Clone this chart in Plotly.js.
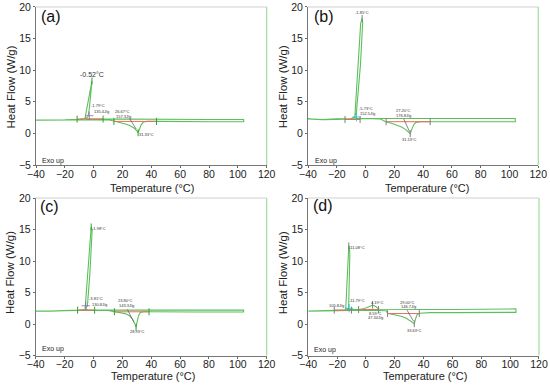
<!DOCTYPE html>
<html><head><meta charset="utf-8">
<script src="https://cdn.plot.ly/plotly-3.0.1.min.js"></script>
<style>html,body{margin:0;padding:0;background:#fff}#chart{width:550px;height:386px}</style>
</head><body><div id="chart"></div>
<script>
const xTicks = [-40, -20, 0, 20, 40, 60, 80, 100, 120];
const yTicks = [-5, 0, 5, 10, 15, 20];
const panelNames = ['(a)', '(b)', '(c)', '(d)'];

// ---- Panel (a) ----
const aHeatT  = [-40, -30, -20, -10, 0, 10, 14, 18, 22, 25, 28, 30, 30.8, 31.8, 33, 34.5, 37, 45, 60, 80, 104];
const aHeatHF = [2.1, 2.1, 2.15, 2.2, 2.2, 2.15, 1.95, 1.75, 1.5, 1.25, 0.85, 0.4, 0.1, 0.7, 1.4, 1.8, 1.9, 1.9, 1.85, 1.85, 1.85];
const aCoolT  = [104, 104, 80, 60, 40, 20, 5, -2, -5, -6, -1.6, -1.2, -1.5, -3, -4, -6, -10, -20, -30, -40];
const aCoolHF = [1.85, 2.2, 2.2, 2.2, 2.2, 2.25, 2.3, 2.3, 2.3, 2.4, 8.0, 8.3, 7.5, 4.0, 2.6, 2.35, 2.25, 2.15, 2.1, 2.1];
const aBaseStart = [-11.5, 14], aBaseEnd = [6.5, 43.6], aBaseHF = [2.27, 1.9];
const aPeakT = [-1.2, 30.8], aPeakHF = [8.3, 0.1];
const aTanT = [25, 29.5], aTanHF = [2.3, 0.7];
const aCrossT = [-3], aCrossHF = [2.8];
const aLabelText = ['-0.52°C', '-1.79°C', '135.4J/g', '26.67°C', '157.3J/g', '31.33°C'];
const aLabelT    = [-1.4, 3.3, 5.4, 20.3, 21, 36.5];
const aLabelHF   = [9.3, 4.45, 3.5, 3.5, 2.65, -0.1];
const aLabelSize = [7, 4, 4, 4, 4, 4];

// ---- Panel (b) ----
const bHeatT  = [-40, -35, -30, -20, -10, 0, 10, 14, 18, 22, 25, 28, 30, 31, 32, 33.5, 35, 38, 45, 60, 80, 104];
const bHeatHF = [2.3, 2.25, 2.15, 2.2, 2.3, 2.35, 2.3, 1.85, 1.6, 1.3, 1.0, 0.6, 0.2, -0.05, 0.6, 1.4, 1.75, 1.85, 1.85, 1.85, 1.85, 1.85];
const bCoolT  = [104, 104, 80, 60, 40, 20, 0, -4, -7, -7.5, -3.4, -2.4, -2.0, -3.5, -5.5, -6.4, -8, -10, -20, -30, -40];
const bCoolHF = [1.85, 2.35, 2.35, 2.35, 2.35, 2.35, 2.35, 2.35, 2.4, 2.5, 17.4, 18.2, 17.6, 11, 5, 3.2, 2.5, 2.35, 2.3, 2.2, 2.3];
const bBaseStart = [-14.3, 14.3], bBaseEnd = [-3.8, 44.9], bBaseHF = [2.2, 1.85];
const bPeakT = [-2.4, 31], bPeakHF = [18.2, -0.05];
const bTanT = [26.5, 30.5], bTanHF = [2.3, 0.3];
const bCrossT = [-6.3], bCrossHF = [2.6];
const bLabelText = ['-1.85°C', '-5.73°C', '152.5J/g', '27.20°C', '176.8J/g', '31.13°C'];
const bLabelT    = [-2.6, 0.1, 1.0, 26.1, 26.6, 30.7];
const bLabelHF   = [19.2, 3.9, 3.1, 3.6, 2.9, -1.0];
const bLabelSize = [4, 4, 4, 4, 4, 4];

// ---- Panel (c) ----
const cHeatT  = [-40, -30, -20, -10, 0, 10, 14.5, 18, 22, 25, 27, 28.5, 29.5, 30.3, 31.2, 32.5, 35, 38.5, 50, 70, 104];
const cHeatHF = [2.05, 2.05, 2.1, 2.15, 2.2, 2.15, 1.95, 1.85, 1.65, 1.3, 0.8, 0.1, -0.5, 0.4, 1.3, 1.85, 1.95, 1.95, 1.9, 1.9, 1.9];
const cCoolT  = [104, 104, 80, 60, 40, 20, 0, -4, -5.8, -2.2, -1.6, -0.9, -2.5, -4.2, -6, -10, -20, -30, -40];
const cCoolHF = [1.9, 2.2, 2.2, 2.2, 2.2, 2.2, 2.2, 2.25, 2.4, 14.8, 15.4, 15.0, 8, 2.9, 2.3, 2.2, 2.1, 2.05, 2.05];
const cBaseStart = [-11, 14.5], cBaseEnd = [0.8, 38.5], cBaseHF = [2.2, 1.94];
const cPeakT = [-1.6, 29.5], cPeakHF = [15.4, -0.5];
const cTanT = [23.5, 28], cTanHF = [2.3, 0.3];
const cCrossT = [-5.3], cCrossHF = [2.9];
const cLabelText = ['-1.98°C', '-3.81°C', '130.8J/g', '23.80°C', '143.3J/g', '28.93°C'];
const cLabelT    = [4.0, 1.7, 4.0, 22.5, 23, 30.6];
const cLabelHF   = [15.1, 4.05, 3.15, 3.8, 3.0, -1.2];
const cLabelSize = [4, 4, 4, 4, 4, 4];

// ---- Panel (d) ----
const dHeatT  = [-40, -30, -20, -10, 0, 10, 14, 15, 20, 25, 28, 31, 32.5, 33.5, 34.5, 35.5, 37, 45, 60, 80, 104];
const dHeatHF = [2.05, 2.05, 2.1, 2.15, 2.2, 2.2, 2.1, 1.7, 1.5, 1.2, 0.9, 0.5, 0.25, 0.05, 0.9, 1.5, 1.7, 1.8, 1.8, 1.8, 1.85];
const dCoolT  = [104, 104, 80, 60, 40, 20, 12, 8.75, 7, 4.6, 2, -1, -5, -10, -13, -14, -11.9, -11.4, -11.2, -11.5, -12, -15, -20, -30, -40];
const dCoolHF = [1.85, 2.4, 2.3, 2.3, 2.3, 2.3, 2.3, 2.35, 2.75, 3.0, 2.75, 2.45, 2.3, 2.25, 2.3, 2.5, 12.4, 12.3, 11, 4, 2.5, 2.2, 2.15, 2.1, 2.05];
const dBaseStart = [-22, -5.1, 15], dBaseEnd = [-10, 8.75, 37], dBaseHF = [2.2, 2.3, 1.66];
const dPeakT = [-11.9, 4.6, 33.5], dPeakHF = [12.4, 3.0, 0.05];
const dTanT = [28.5, 32.8], dTanHF = [2.2, 0.5];
const dCrossT = [-11.7], dCrossHF = [2.5];
const dLabelText = ['-11.08°C', '-11.79°C', '105.8J/g', '4.19°C', '8.59°C', '47.34J/g', '29.00°C', '146.7J/g', '33.63°C'];
const dLabelT    = [-6.5, -6.5, -20.4, 7.4, 6.2, 6.9, 28.6, 29.3, 33.5];
const dLabelHF   = [12.15, 3.8, 3.0, 3.4, 1.68, 0.98, 3.45, 2.74, -1.0];
const dLabelSize = [4, 4, 4, 4, 4, 4, 4, 4, 4];

const GREEN = '#5cbf5c', RED = '#ee6a5e', GRAY = '#555';

const panels = [
  {s: '',  heat: [aHeatT, aHeatHF], cool: [aCoolT, aCoolHF], base: [aBaseStart, aBaseEnd, aBaseHF], peak: [aPeakT, aPeakHF], tan: [aTanT, aTanHF], cross: [aCrossT, aCrossHF], lab: [aLabelText, aLabelT, aLabelHF, aLabelSize]},
  {s: '2', heat: [bHeatT, bHeatHF], cool: [bCoolT, bCoolHF], base: [bBaseStart, bBaseEnd, bBaseHF], peak: [bPeakT, bPeakHF], tan: [bTanT, bTanHF], cross: [bCrossT, bCrossHF], lab: [bLabelText, bLabelT, bLabelHF, bLabelSize]},
  {s: '3', heat: [cHeatT, cHeatHF], cool: [cCoolT, cCoolHF], base: [cBaseStart, cBaseEnd, cBaseHF], peak: [cPeakT, cPeakHF], tan: [cTanT, cTanHF], cross: [cCrossT, cCrossHF], lab: [cLabelText, cLabelT, cLabelHF, cLabelSize]},
  {s: '4', heat: [dHeatT, dHeatHF], cool: [dCoolT, dCoolHF], base: [dBaseStart, dBaseEnd, dBaseHF], peak: [dPeakT, dPeakHF], tan: [dTanT, dTanHF], cross: [dCrossT, dCrossHF], lab: [dLabelText, dLabelT, dLabelHF, dLabelSize]}
];

// panel geometry (paper fractions)
const xDom = [[0.0655, 0.4849], [0.5600, 0.9787], [0.0650, 0.4849], [0.5605, 0.9800]];
const yDom = [[0.5725, 0.9819], [0.5725, 0.9819], [0.0790, 0.4870], [0.0790, 0.4870]];

const traces = [];
const annotations = [];
const shapes = [];

panels.forEach((p, i) => {
  const xa = 'x' + p.s, ya = 'y' + p.s;
  traces.push({x: p.heat[0].concat(p.cool[0]), y: p.heat[1].concat(p.cool[1]), xaxis: xa, yaxis: ya,
    mode: 'lines', line: {color: GREEN, width: 1.1}, hoverinfo: 'skip'});
  const bx = [], by = [], mx = [], my = [];
  p.base[0].forEach((st, k) => {
    bx.push(st, p.base[1][k], null); by.push(p.base[2][k], p.base[2][k], null);
    mx.push(st, p.base[1][k]); my.push(p.base[2][k], p.base[2][k]);
  });
  traces.push({x: bx, y: by, xaxis: xa, yaxis: ya, mode: 'lines', line: {color: RED, width: 1}, hoverinfo: 'skip'});
  traces.push({x: mx.concat(p.peak[0]), y: my.concat(p.peak[1]), xaxis: xa, yaxis: ya, mode: 'markers',
    marker: {symbol: 'line-ns-open', size: 5, line: {color: RED, width: 1}}, hoverinfo: 'skip'});
  traces.push({x: p.tan[0], y: p.tan[1], xaxis: xa, yaxis: ya, mode: 'lines', line: {color: GRAY, width: 0.7}, hoverinfo: 'skip'});
  traces.push({x: p.cross[0], y: p.cross[1], xaxis: xa, yaxis: ya, mode: 'markers',
    marker: {symbol: 'cross-thin-open', size: 6, line: {color: GRAY, width: 0.8}}, hoverinfo: 'skip'});
  p.lab[0].forEach((t, k) => {
    annotations.push({text: t, x: p.lab[1][k], y: p.lab[2][k], xref: xa, yref: ya, showarrow: false,
      font: {size: p.lab[3][k], color: '#333'}, xanchor: 'center', yanchor: 'middle'});
  });
  shapes.push({type: 'line', xref: xa + ' domain', yref: ya + ' domain', x0: 0, x1: 1, y0: 1, y1: 1, line: {color: '#cfcfcf', width: 1}});
  shapes.push({type: 'line', xref: xa + ' domain', yref: ya + ' domain', x0: 1, x1: 1, y0: 0, y1: 1, line: {color: '#9edc9e', width: 1.2}});
});

const W = 550, H = 386;
const px = v => v / W, py = v => 1 - v / H;
const panelLabelPos = [[50.5, 16.7], [323.5, 16.7], [49.3, 206], [323, 205.5]];
const exoPos = [[40, 161.5], [313, 161.5], [40, 349], [311.7, 349.5]];
const xTitlePos = [[152, 188.5], [426.7, 188.5], [152.5, 376.3], [425, 376.3]];
const yTitlePos = [[10, 87.5], [283.3, 87], [10, 273], [283.3, 273]];
for (let i = 0; i < 4; i++) {
  annotations.push({text: panelNames[i], x: px(panelLabelPos[i][0]), y: py(panelLabelPos[i][1]), xref: 'paper', yref: 'paper',
    showarrow: false, font: {size: 16, color: '#111'}, xanchor: 'center', yanchor: 'middle'});
  annotations.push({text: 'Exo up', x: px(exoPos[i][0]), y: py(exoPos[i][1]), xref: 'paper', yref: 'paper',
    showarrow: false, font: {size: 7, color: '#222'}, xanchor: 'left', yanchor: 'middle'});
  annotations.push({text: 'Temperature (°C)', x: px(xTitlePos[i][0]), y: py(xTitlePos[i][1]), xref: 'paper', yref: 'paper',
    showarrow: false, font: {size: 11, color: '#222'}, xanchor: 'center', yanchor: 'middle'});
  annotations.push({text: 'Heat Flow (W/g)', x: px(yTitlePos[i][0]), y: py(yTitlePos[i][1]), xref: 'paper', yref: 'paper',
    showarrow: false, textangle: -90, font: {size: 11.5, color: '#222'}, xanchor: 'center', yanchor: 'middle'});
}

const layout = {
  width: W, height: H, margin: {l: 0, r: 0, t: 0, b: 0},
  showlegend: false, paper_bgcolor: '#fff', plot_bgcolor: '#fff',
  font: {family: 'Liberation Sans, Arial, sans-serif', color: '#222'},
  annotations: annotations, shapes: shapes
};
for (let i = 0; i < 4; i++) {
  const s = i === 0 ? '' : String(i + 1);
  layout['xaxis' + s] = {domain: xDom[i], anchor: 'y' + s, range: [-40, 120], tickvals: xTicks,
    ticks: 'outside', ticklen: 2, tickcolor: '#666', showline: true, linecolor: '#777', linewidth: 1,
    showgrid: false, zeroline: false, tickfont: {size: 10.5, color: '#222'}, ticklabelstandoff: -3,
    automargin: false, fixedrange: true};
  layout['yaxis' + s] = {domain: yDom[i], anchor: 'x' + s, range: [-5, 20], tickvals: yTicks,
    ticks: 'outside', ticklen: 2, tickcolor: '#666', showline: true, linecolor: '#777', linewidth: 1,
    showgrid: false, zeroline: false, tickfont: {size: 10.5, color: '#222'}, automargin: false, fixedrange: true};
}

Plotly.newPlot('chart', traces, layout, {staticPlot: true, displayModeBar: false});
</script>
</body></html>
